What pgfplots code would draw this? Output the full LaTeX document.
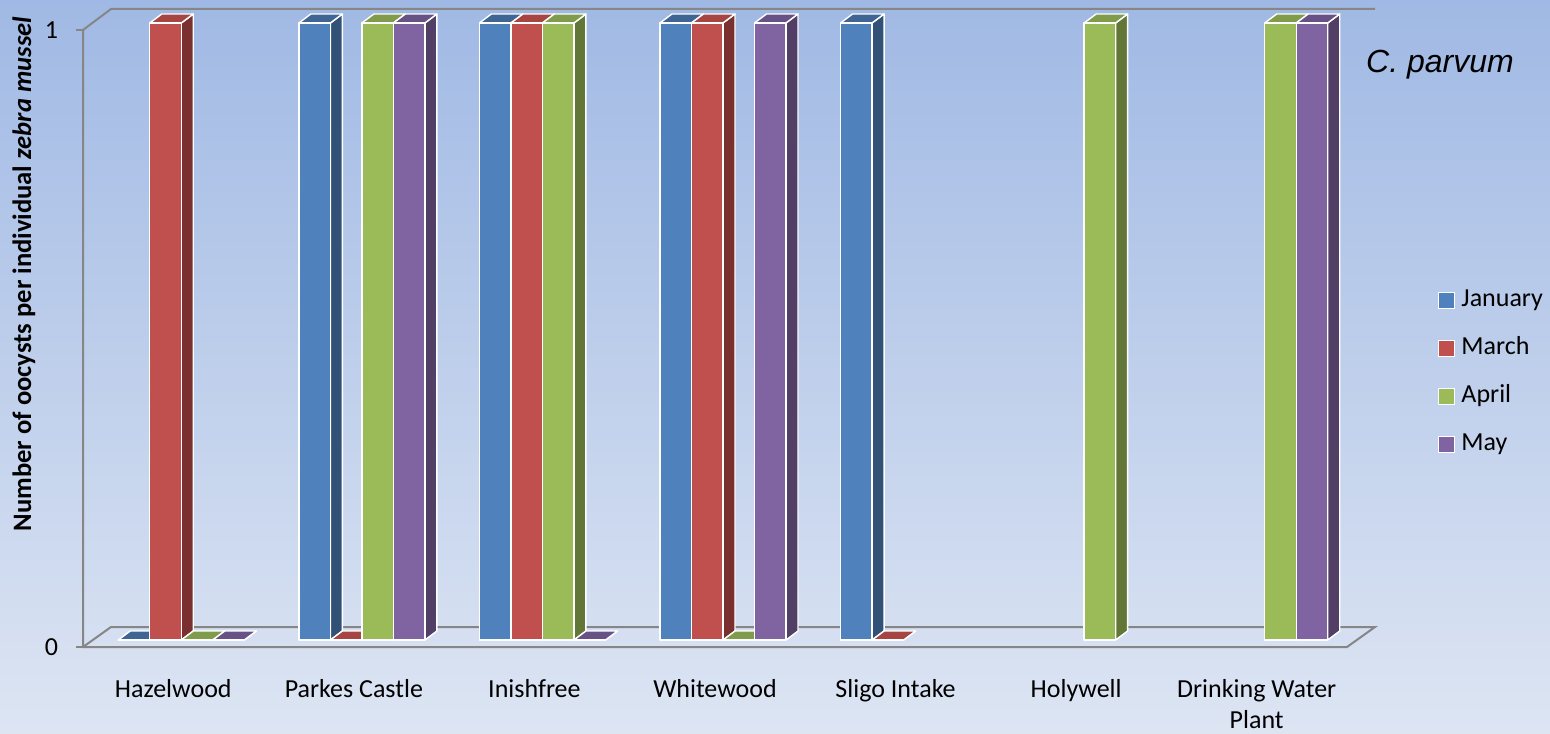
\documentclass[border=0pt]{standalone}
\usepackage{pgfplots}
\pgfplotsset{compat=1.18}
\usepackage{pgfplotstable}
\usepackage{fontspec}
\setmainfont{Carlito}
\newfontfamily\arialfont{Liberation Sans}

% series colours: front face, side face, top face
\definecolor{janF}{RGB}{79,129,189}  \definecolor{janS}{RGB}{50,81,119}  \definecolor{janT}{RGB}{62,101,148}
\definecolor{marF}{RGB}{192,80,77}   \definecolor{marS}{RGB}{121,48,46}  \definecolor{marT}{RGB}{166,69,66}
\definecolor{aprF}{RGB}{155,187,89}  \definecolor{aprS}{RGB}{98,118,56}  \definecolor{aprT}{RGB}{128,155,74}
\definecolor{mayF}{RGB}{128,100,162} \definecolor{mayS}{RGB}{81,63,102}  \definecolor{mayT}{RGB}{104,82,133}
\definecolor{bgTop}{RGB}{160,185,228}
\definecolor{bgBot}{RGB}{221,229,243}
\definecolor{frameGray}{RGB}{134,134,134}

% oocysts per mussel; nan = no sample
\pgfplotstableread{
idx jan mar apr may
0   0   1   0   0
1   1   0   1   1
2   1   1   1   0
3   1   1   0   1
4   1   0   nan nan
5   nan nan 1   nan
6   nan nan 1   1
}\oocysts

\newcommand\txt{\fontsize{13}{15.5}\selectfont}

\tikzset{barface/.style={draw=white, line width=0.7pt, line join=round}}

% a column with depth: front (#1), side (#2) and top (#3) faces,
% drawn from the data point; 308.5pt is the length of one y unit
\pgfplotsset{
  bar3d/.style n args={3}{
    only marks, mark=*, mark size=0pt, mark options={draw=none,fill=none},
    scatter,
    visualization depends on={rawy \as \val},
    scatter/@pre marker code/.code={%
      \pgfmathsetlengthmacro\h{\val*308.5pt}%
      \filldraw[barface, fill=#2] (11.875pt,3.5pt-\h) -- (11.875pt,3.5pt)
        -- (17.875pt,8pt) -- (17.875pt,8pt-\h) -- cycle;
      \filldraw[barface, fill=#3] (-3.875pt,3.5pt) -- (11.875pt,3.5pt)
        -- (17.875pt,8pt) -- (2.125pt,8pt) -- cycle;
      \filldraw[barface, fill=#1] (-3.875pt,3.5pt-\h) rectangle (11.875pt,3.5pt);
    },
    scatter/@post marker code/.code={},
    legend image code/.code={%
      \filldraw[draw=white, line width=0.5pt, fill=#1] (0pt,-4pt) rectangle (8pt,4pt);},
  },
}

\begin{document}
\begin{tikzpicture}
\shade[top color=bgTop, bottom color=bgBot] (0,0) rectangle (775pt,366.5pt);
\path[use as bounding box] (0,0) rectangle (775pt,366.5pt);
\begin{axis}[
  at={(41.5pt,43pt)}, anchor=south west,
  scale only axis, width=632pt, height=308.5pt,
  xmin=-0.5, xmax=6.5, ymin=0, ymax=1,
  clip=false,
  axis line style={draw=none},
  xtick={0,...,6},
  xticklabels={Hazelwood, Parkes Castle, Inishfree, Whitewood, Sligo Intake, Holywell, {Drinking Water\\Plant}},
  xticklabel style={font=\txt, align=center, yshift=-9pt},
  x tick style={draw=none},
  ytick={0,1},
  ytick pos=left,
  yticklabel style={font=\txt, xshift=-5.5pt},
  /pgf/number format/assume math mode=true,
  y tick style={draw=frameGray, line width=1pt},
  tick align=outside,
  major tick length=3.5pt,
  every axis y label/.style={at={(axis description cs:-0.0467,0.6045)}, rotate=90, anchor=center},
  ylabel={\fontsize{13.3}{16}\selectfont\bfseries Number of oocysts per individual \textit{zebra mussel}},
  legend style={at={(axis description cs:1.0673,0.4441)}, anchor=west,
    draw=none, fill=none, font=\txt, column sep=3pt, row sep=12pt,
    nodes={inner sep=0pt, text height=9pt, text depth=3pt}},
  legend cell align=left,
]
% the floor and the left and back edges of the box
\draw[frameGray, line width=1pt] (rel axis cs:0,1) -- (rel axis cs:0,0) -- (rel axis cs:1,0)
  -- ++(14pt,10pt) -- ([shift={(14pt,10pt)}]rel axis cs:0,0) -- (rel axis cs:0,0);
\draw[frameGray, line width=1pt] (rel axis cs:0,1) -- ++(14pt,10.5pt)
  -- ([shift={(14pt,10.5pt)}]rel axis cs:1,1);

\addplot[bar3d={janF}{janS}{janT}] table[x expr=\thisrow{idx}-0.2617, y=jan] {\oocysts};
\addlegendentry{January}
\addplot[bar3d={marF}{marS}{marT}] table[x expr=\thisrow{idx}-0.0872, y=mar] {\oocysts};
\addlegendentry{March}
\addplot[bar3d={aprF}{aprS}{aprT}] table[x expr=\thisrow{idx}+0.0872, y=apr] {\oocysts};
\addlegendentry{April}
\addplot[bar3d={mayF}{mayS}{mayT}] table[x expr=\thisrow{idx}+0.2617, y=may] {\oocysts};
\addlegendentry{May}

\node[anchor=base, font=\arialfont\itshape\fontsize{16}{19}\selectfont]
  at (axis description cs:1.0736,0.9303) {C. parvum};
\end{axis}
\end{tikzpicture}
\end{document}
